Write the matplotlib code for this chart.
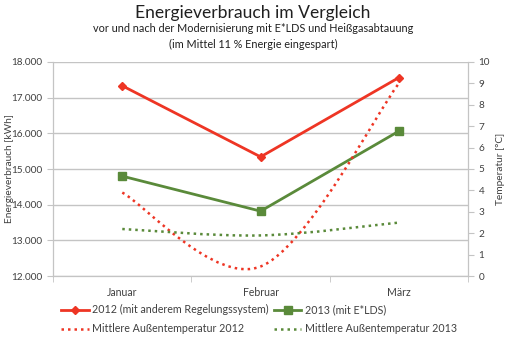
import matplotlib
matplotlib.use('Agg')
import matplotlib.pyplot as plt
from matplotlib.path import Path
from matplotlib.patches import PathPatch
from matplotlib.lines import Line2D
from matplotlib.ticker import FuncFormatter

plt.rcParams['font.family'] = ['Lato', 'DejaVu Sans']

months = ['Januar', 'Februar', 'März']
verbrauch_2012 = [17330, 15340, 17560]
verbrauch_2013 = [14800, 13820, 16060]
temp_2012 = [3.9, 0.45, 9.0]
temp_2013 = [2.2, 1.9, 2.5]

red = '#ee3524'
green = '#5a8a3a'
grid_col = '#c4c4c4'
text_col = '#404040'


def smooth_path(xs, ys):
    # Bezier like Excel's "smoothed line"
    pts = list(zip(xs, ys))
    verts = [pts[0]]
    codes = [Path.MOVETO]
    for i in range(len(pts) - 1):
        p0 = pts[max(i - 1, 0)]
        p1 = pts[i]
        p2 = pts[i + 1]
        p3 = pts[min(i + 2, len(pts) - 1)]
        c1 = (p1[0] + (p2[0] - p0[0]) / 6, p1[1] + (p2[1] - p0[1]) / 6)
        c2 = (p2[0] - (p3[0] - p1[0]) / 6, p2[1] - (p3[1] - p1[1]) / 6)
        verts += [c1, c2, p2]
        codes += [Path.CURVE4] * 3
    return Path(verts, codes)


fig = plt.figure(figsize=(5.06, 3.38), dpi=100)
ax = fig.add_axes([0.105, 0.183, 0.82, 0.634])
ax2 = ax.twinx()

x = list(range(len(months)))

ax.set_xlim(-0.5, 2.5)
ax.set_ylim(12000, 18000)
ax.set_yticks(range(12000, 18001, 1000))
ax.yaxis.set_major_formatter(FuncFormatter(lambda v, p: f'{int(v):,}'.replace(',', '.')))
ax.grid(axis='y', color=grid_col, linewidth=1)
ax.set_axisbelow(True)
ax.set_xticks(x)
ax.set_xticklabels(months)
ax.set_xticks([-0.5, 0.5, 1.5, 2.5], minor=True)
ax.tick_params(axis='x', which='major', length=0, pad=8, labelsize=7.6, colors=text_col)
ax.tick_params(axis='x', which='minor', length=4, color=grid_col)
ax.tick_params(axis='y', length=4, color=grid_col, labelsize=7.2, colors=text_col)
ax.set_ylabel('Energieverbrauch [kWh]', fontsize=7.3, color=text_col)
ax.yaxis.set_label_coords(-0.094, 0.5)

ax2.set_ylim(0, 10)
ax2.set_yticks(range(0, 11))
ax2.tick_params(axis='y', length=4, color=grid_col, labelsize=7.2, colors=text_col)
ax2.set_ylabel('Temperatur [°C]', fontsize=7.3, color=text_col)
ax2.yaxis.set_label_coords(1.068, 0.5)

for a in (ax, ax2):
    a.spines['top'].set_visible(False)
    for s in ('left', 'right', 'bottom'):
        a.spines[s].set_color(grid_col)

ax.plot(x, verbrauch_2012, color=red, linewidth=2.0, marker='D', markersize=4.5, zorder=4)
ax.plot(x, verbrauch_2013, color=green, linewidth=2.0, marker='s', markersize=5.5, zorder=4)

dot = (0, (1, 1.6))
ax2.add_patch(PathPatch(smooth_path(x, temp_2012), fill=False, edgecolor=red,
                        linewidth=1.8, linestyle=dot, zorder=3))
ax2.add_patch(PathPatch(smooth_path(x, temp_2013), fill=False, edgecolor=green,
                        linewidth=1.8, linestyle=dot, zorder=3))

handles = [
    Line2D([], [], color=red, linewidth=2.0, marker='D', markersize=4.5),
    Line2D([], [], color=red, linewidth=1.8, linestyle=dot),
    Line2D([], [], color=green, linewidth=2.0, marker='s', markersize=5.5),
    Line2D([], [], color=green, linewidth=1.8, linestyle=dot),
]
labels = ['2012 (mit anderem Regelungssystem)', 'Mittlere Außentemperatur 2012',
          '2013 (mit E*LDS)', 'Mittlere Außentemperatur 2013']
fig.legend(handles, labels, ncol=2, loc='lower left', bbox_to_anchor=(0.102, -0.018),
           frameon=False, fontsize=7.7, handlelength=2.6, columnspacing=0.45,
           handletextpad=0.3, labelspacing=0.75, labelcolor=text_col)

fig.text(0.5, 0.962, 'Energieverbrauch im Vergleich', ha='center', va='center',
         fontsize=12.6, color='#202020')
fig.text(0.5, 0.915, 'vor und nach der Modernisierung mit E*LDS und Heißgasabtauung',
         ha='center', va='center', fontsize=7.8, color='#202020')
fig.text(0.5, 0.868, '(im Mittel 11 % Energie eingespart)', ha='center', va='center',
         fontsize=7.8, color='#202020')

fig.savefig('out.png', dpi=100)
